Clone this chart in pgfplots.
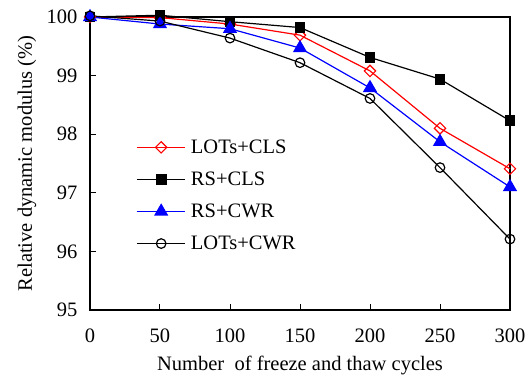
\documentclass[border=0pt]{standalone}
\usepackage{fontspec}
\setmainfont{Liberation Serif}
\usepackage{pgfplots}
\pgfplotsset{compat=1.18}
\begin{document}
\begin{tikzpicture}
\begin{axis}[
  scale only axis,
  width=420pt, height=293pt,
  xmin=0, xmax=300, ymin=95, ymax=100,
  xtick={0,50,...,300}, ytick={95,96,...,100},
  tick align=inside,
  xtick pos=bottom, ytick pos=left,
  major tick length=6pt,
  axis line style={line width=1.3pt},
  every tick/.style={line width=1pt, black},
  /pgf/number format/assume math mode=true,
  tick label style={font=\fontsize{20.5}{24}\selectfont},
  xticklabel style={yshift=-15pt},
  yticklabel style={xshift=-9pt},
  label style={font=\fontsize{20.5}{24}\selectfont},
  xlabel={Number\ \ of freeze and thaw cycles},
  ylabel={Relative dynamic modulus (\%)},
  xlabel style={at={(axis description cs:0.5,-0.19)}, anchor=center},
  ylabel style={at={(axis description cs:-0.150,0.5)}, anchor=center},
  clip=false,
  legend style={at={(0.11,0.585)}, anchor=north west, draw=none, fill=none,
    font=\fontsize{20.5}{24}\selectfont, row sep=15pt, column sep=4pt, inner sep=0pt,
    nodes={inner sep=1pt}},
  legend cell align=left,
  legend image code/.code={\draw[mark repeat=2,mark phase=2] plot coordinates {(0cm,0cm) (0.85cm,0cm) (1.7cm,0cm)};},
]
\addplot[red, line width=1.2pt, mark=square, mark size=4pt, mark options={fill=white, solid, line width=1.1pt, rotate=45}]
  coordinates {(0,100) (50,99.99) (100,99.88) (150,99.69) (200,99.08) (250,98.10) (300,97.41)};
\addlegendentry{LOTs+CLS}
\addplot[black, line width=1.2pt, mark=square*, mark size=4.8pt, mark options={fill=black}]
  coordinates {(0,100) (50,100.03) (100,99.92) (150,99.82) (200,99.31) (250,98.94) (300,98.23)};
\addlegendentry{RS+CLS}
\addplot[blue, line width=1.2pt, mark=triangle*, mark size=7pt, mark options={fill=blue}]
  coordinates {(0,100) (50,99.88) (100,99.80) (150,99.47) (200,98.79) (250,97.87) (300,97.10)};
\addlegendentry{RS+CWR}
\addplot[black, line width=1.2pt, mark=o, mark size=4.8pt, mark options={fill=white, line width=1.2pt}]
  coordinates {(0,100.02) (50,99.93) (100,99.64) (150,99.22) (200,98.61) (250,97.43) (300,96.21)};
\addlegendentry{LOTs+CWR}
\end{axis}
\pgfresetboundingbox
\path (current axis.south west) ++(-90pt,-68pt) rectangle ++(532pt,378pt);
\end{tikzpicture}
\end{document}
